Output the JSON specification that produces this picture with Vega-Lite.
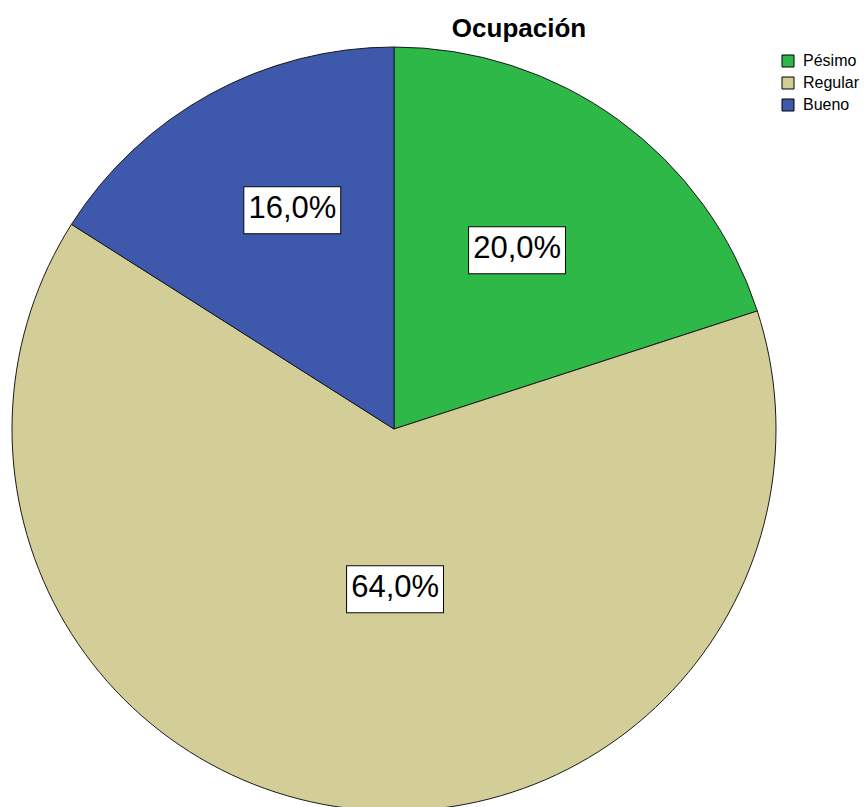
{
  "$schema": "https://vega.github.io/schema/vega-lite/v6.json",
  "autosize": {"type": "none"},
  "padding": {"left": 0, "top": 51, "right": 76, "bottom": 0},
  "width": 788,
  "height": 756,
  "background": "white",
  "title": {
    "text": "Ocupación",
    "font": "Liberation Sans",
    "fontSize": 26,
    "fontWeight": "bold",
    "color": "#000000",
    "anchor": "middle",
    "frame": "group",
    "dx": 125,
    "offset": 3
  },
  "data": {
    "values": [
      {"Ocupacion": "Pésimo", "pct": 0.20, "orden": 1},
      {"Ocupacion": "Regular", "pct": 0.64, "orden": 2},
      {"Ocupacion": "Bueno", "pct": 0.16, "orden": 3}
    ]
  },
  "encoding": {
    "theta": {"field": "pct", "type": "quantitative", "stack": true},
    "order": {"field": "orden", "type": "quantitative", "sort": "ascending"}
  },
  "layer": [
    {
      "mark": {"type": "arc", "outerRadius": 382, "stroke": "#1a1a1a", "strokeWidth": 1},
      "encoding": {
        "color": {
          "field": "Ocupacion",
          "type": "nominal",
          "sort": ["Pésimo", "Regular", "Bueno"],
          "scale": {"domain": ["Pésimo", "Regular", "Bueno"], "range": ["#2EB848", "#D3CE97", "#3E58AC"]},
          "legend": {
            "title": null,
            "orient": "none",
            "legendX": 780,
            "legendY": 2,
            "symbolType": "square",
            "symbolSize": 144,
            "symbolStrokeColor": "#000000",
            "symbolStrokeWidth": 1,
            "labelFont": "Liberation Sans",
            "labelFontSize": 16,
            "labelColor": "#000000",
            "labelOffset": 7,
            "rowPadding": 6,
            "padding": 0
          }
        }
      }
    },
    {
      "mark": {"type": "text", "font": "DejaVu Sans", "fontSize": 127, "fill": "#ffffff", "stroke": "#000000", "strokeWidth": 1, "radius": 218, "dx": -5, "dy": -8, "align": "center", "baseline": "middle"},
      "encoding": {
        "detail": {"field": "Ocupacion", "type": "nominal"},
        "text": {"condition": {"test": "datum.Ocupacion === 'Pésimo'", "value": "▬"}, "value": ""}
      }
    },
    {
      "mark": {"type": "text", "font": "DejaVu Sans", "fontSize": 127, "fill": "#ffffff", "stroke": "#000000", "strokeWidth": 1, "radius": 158, "dx": 21, "dy": -2, "align": "center", "baseline": "middle"},
      "encoding": {
        "detail": {"field": "Ocupacion", "type": "nominal"},
        "text": {"condition": {"test": "datum.Ocupacion === 'Regular'", "value": "▬"}, "value": ""}
      }
    },
    {
      "mark": {"type": "text", "font": "DejaVu Sans", "fontSize": 127, "fill": "#ffffff", "stroke": "#000000", "strokeWidth": 1, "radius": 242, "dx": 15, "dy": -12, "align": "center", "baseline": "middle"},
      "encoding": {
        "detail": {"field": "Ocupacion", "type": "nominal"},
        "text": {"condition": {"test": "datum.Ocupacion === 'Bueno'", "value": "▬"}, "value": ""}
      }
    },
    {
      "mark": {"type": "text", "font": "Liberation Sans", "fontSize": 31, "fill": "#000000", "radius": 218, "dx": -5, "dy": -4, "align": "center", "baseline": "middle"},
      "encoding": {
        "detail": {"field": "Ocupacion", "type": "nominal"},
        "text": {"condition": {"test": "datum.Ocupacion === 'Pésimo'", "field": "pct", "type": "quantitative", "format": ".1%"}, "value": ""}
      }
    },
    {
      "mark": {"type": "text", "font": "Liberation Sans", "fontSize": 31, "fill": "#000000", "radius": 158, "dx": 21, "dy": 2, "align": "center", "baseline": "middle"},
      "encoding": {
        "detail": {"field": "Ocupacion", "type": "nominal"},
        "text": {"condition": {"test": "datum.Ocupacion === 'Regular'", "field": "pct", "type": "quantitative", "format": ".1%"}, "value": ""}
      }
    },
    {
      "mark": {"type": "text", "font": "Liberation Sans", "fontSize": 31, "fill": "#000000", "radius": 242, "dx": 15, "dy": -8, "align": "center", "baseline": "middle"},
      "encoding": {
        "detail": {"field": "Ocupacion", "type": "nominal"},
        "text": {"condition": {"test": "datum.Ocupacion === 'Bueno'", "field": "pct", "type": "quantitative", "format": ".1%"}, "value": ""}
      }
    }
  ],
  "config": {
    "view": {"stroke": null},
    "locale": {"number": {"decimal": ",", "thousands": ".", "grouping": [3], "currency": ["", " €"]}}
  }
}
